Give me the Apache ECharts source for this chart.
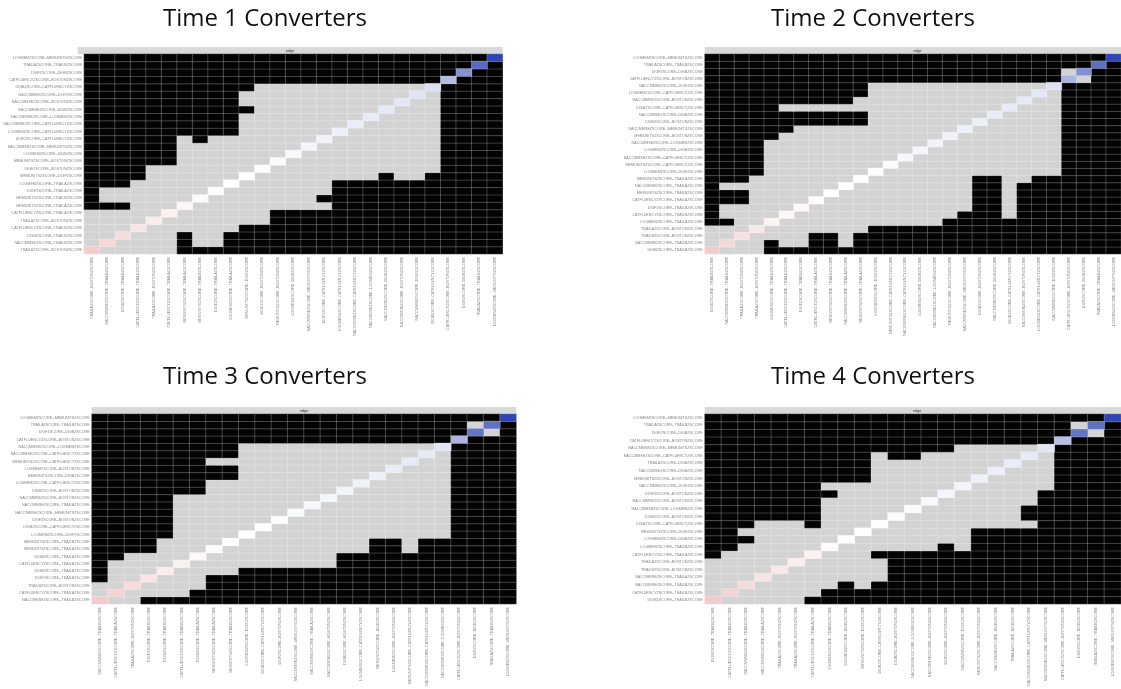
<!DOCTYPE html>
<html>
<head>
<meta charset="utf-8">
<script src="https://cdn.jsdelivr.net/npm/echarts@6.0.0/dist/echarts.min.js"></script>
<style>
  html, body { margin: 0; padding: 0; background: #ffffff; }
  #chart { width: 1121px; height: 689px; }
</style>
</head>
<body>
<div id="chart"></div>
<script>
// Edge-weight difference tests, one matrix per time point.
// Edges are listed from the weakest (bottom row / left column) to the strongest.
// Diagonal cells show the edge weight; off-diagonal cells are grey when two
// edges do not differ significantly and black when they do.

const titles = ['Time 1 Converters', 'Time 2 Converters', 'Time 3 Converters', 'Time 4 Converters'];

// ---- Time 1 ----
const time1Edges = [
  'TRAILBZSCORE--BOSTONZSCORE', 'NACCMMSEZSCORE--TRAILBZSCORE', 'DIGBZSCORE--TRAILBZSCORE',
  'CATFLUENCYZSCORE--TRAILBZSCORE', 'TRAILAZSCORE--BOSTONZSCORE', 'CATFLUENCYZSCORE--TRAILAZSCORE',
  'MEMUNITSZSCORE--TRAILAZSCORE', 'MEMUNITSZSCORE--TRAILBZSCORE', 'DIGFZSCORE--TRAILAZSCORE',
  'LOGMEMZSCORE--TRAILAZSCORE', 'MEMUNITSZSCORE--DIGFZSCORE', 'DIGFZSCORE--BOSTONZSCORE',
  'MEMUNITSZSCORE--BOSTONZSCORE', 'LOGMEMZSCORE--DIGBZSCORE', 'NACCMMSEZSCORE--MEMUNITSZSCORE',
  'DIGFZSCORE--CATFLUENCYZSCORE', 'LOGMEMZSCORE--CATFLUENCYZSCORE', 'NACCMMSEZSCORE--CATFLUENCYZSCORE',
  'NACCMMSEZSCORE--LOGMEMZSCORE', 'NACCMMSEZSCORE--DIGBZSCORE', 'NACCMMSEZSCORE--BOSTONZSCORE',
  'NACCMMSEZSCORE--DIGFZSCORE', 'DIGBZSCORE--CATFLUENCYZSCORE', 'CATFLUENCYZSCORE--BOSTONZSCORE',
  'DIGFZSCORE--DIGBZSCORE', 'TRAILAZSCORE--TRAILBZSCORE', 'LOGMEMZSCORE--MEMUNITSZSCORE'
];
const time1Weights = [
  -0.125, -0.1, -0.085, -0.065, -0.05, -0.035, -0.025, -0.015, -0.008, 0.0,
  0.003, 0.006, 0.01, 0.018, 0.026, 0.034, 0.04, 0.048, 0.055, 0.06,
  0.066, 0.072, 0.085, 0.18, 0.29, 0.4, 0.5
];
// per row: column ranges [from, to] (1-based) that are not significantly different
const time1Same = [
  [[1, 6]], [[1, 6], [8, 9]], [[1, 6], [8, 9]], [[1, 10]], [[1, 12]], [[1, 12]],
  [[4, 16]], [[2, 15]], [[2, 16]], [[4, 16]], [[5, 19], [21, 22]], [[5, 23]],
  [[7, 23]], [[7, 23]], [[7, 23]], [[7, 7], [9, 23]], [[11, 23]], [[11, 23]],
  [[11, 23]], [[12, 23]], [[11, 23]], [[11, 23]], [[12, 23]], [], [], [], []
];

// ---- Time 2 ----
const time2Edges = [
  'DIGBZSCORE--TRAILBZSCORE', 'NACCMMSEZSCORE--TRAILBZSCORE', 'TRAILBZSCORE--BOSTONZSCORE',
  'TRAILAZSCORE--BOSTONZSCORE', 'LOGMEMZSCORE--TRAILBZSCORE', 'CATFLUENCYZSCORE--TRAILBZSCORE',
  'DIGFZSCORE--TRAILBZSCORE', 'CATFLUENCYZSCORE--TRAILAZSCORE', 'MEMUNITSZSCORE--TRAILBZSCORE',
  'NACCMMSEZSCORE--TRAILAZSCORE', 'MEMUNITSZSCORE--TRAILAZSCORE', 'LOGMEMZSCORE--DIGFZSCORE',
  'MEMUNITSZSCORE--CATFLUENCYZSCORE', 'NACCMMSEZSCORE--CATFLUENCYZSCORE', 'LOGMEMZSCORE--DIGBZSCORE',
  'NACCMMSEZSCORE--LOGMEMZSCORE', 'MEMUNITSZSCORE--BOSTONZSCORE', 'NACCMMSEZSCORE--MEMUNITSZSCORE',
  'DIGBZSCORE--BOSTONZSCORE', 'NACCMMSEZSCORE--DIGBZSCORE', 'DIGBZSCORE--CATFLUENCYZSCORE',
  'NACCMMSEZSCORE--BOSTONZSCORE', 'LOGMEMZSCORE--CATFLUENCYZSCORE', 'NACCMMSEZSCORE--DIGFZSCORE',
  'CATFLUENCYZSCORE--BOSTONZSCORE', 'DIGFZSCORE--DIGBZSCORE', 'TRAILAZSCORE--TRAILBZSCORE',
  'LOGMEMZSCORE--MEMUNITSZSCORE'
];
const time2Weights = [
  -0.13, -0.1, -0.08, -0.06, -0.03, -0.02, -0.015, -0.01, 0.0, 0.0,
  0.0, 0.005, 0.01, 0.02, 0.025, 0.03, 0.035, 0.04, 0.045, 0.05,
  0.055, 0.06, 0.065, 0.08, 0.2, 0.3, 0.39, 0.5
];
const time2Same = [
  [[1, 4]], [[1, 4], [6, 7], [10, 10]], [[1, 7], [10, 10]], [[1, 11]], [[3, 16]],
  [[2, 17], [21, 21]], [[2, 18], [21, 21]], [[4, 18], [21, 21]], [[4, 18], [21, 21]],
  [[2, 18], [21, 21]], [[4, 18], [21, 22]], [[5, 24]], [[5, 24]], [[5, 24]], [[5, 24]],
  [[5, 24]], [[6, 24]], [[7, 24]], [[12, 24]], [[12, 24]], [[6, 24]], [[11, 24]],
  [[12, 24]], [[12, 24]], [[25, 26]], [[25, 26]], [], []
];

// ---- Time 3 ----
const time3Edges = [
  'NACCMMSEZSCORE--TRAILBZSCORE', 'CATFLUENCYZSCORE--TRAILAZSCORE', 'TRAILBZSCORE--BOSTONZSCORE',
  'DIGFZSCORE--TRAILBZSCORE', 'DIGBZSCORE--TRAILBZSCORE', 'CATFLUENCYZSCORE--TRAILBZSCORE',
  'DIGBZSCORE--TRAILAZSCORE', 'MEMUNITSZSCORE--TRAILAZSCORE', 'MEMUNITSZSCORE--TRAILBZSCORE',
  'LOGMEMZSCORE--DIGFZSCORE', 'DIGBZSCORE--CATFLUENCYZSCORE', 'DIGFZSCORE--BOSTONZSCORE',
  'NACCMMSEZSCORE--MEMUNITSZSCORE', 'NACCMMSEZSCORE--TRAILAZSCORE', 'NACCMMSEZSCORE--BOSTONZSCORE',
  'DIGBZSCORE--BOSTONZSCORE', 'LOGMEMZSCORE--CATFLUENCYZSCORE', 'MEMUNITSZSCORE--DIGBZSCORE',
  'LOGMEMZSCORE--BOSTONZSCORE', 'MEMUNITSZSCORE--CATFLUENCYZSCORE', 'NACCMMSEZSCORE--CATFLUENCYZSCORE',
  'NACCMMSEZSCORE--LOGMEMZSCORE', 'CATFLUENCYZSCORE--BOSTONZSCORE', 'DIGFZSCORE--DIGBZSCORE',
  'TRAILAZSCORE--TRAILBZSCORE', 'LOGMEMZSCORE--MEMUNITSZSCORE'
];
const time3Weights = [
  -0.13, -0.11, -0.09, -0.07, -0.05, -0.035, -0.02, -0.01, 0.0, 0.0,
  0.003, 0.008, 0.012, 0.018, 0.024, 0.03, 0.036, 0.042, 0.05, 0.055,
  0.06, 0.07, 0.2, 0.37, 0.38, 0.5
];
const time3Same = [
  [[1, 3]], [[1, 6]], [[1, 7]], [[2, 7]], [[2, 9]], [[2, 15]], [[3, 15]],
  [[5, 17], [20, 20]], [[5, 17], [20, 20]], [[6, 22]], [[6, 22]], [[6, 22]], [[6, 22]],
  [[6, 22]], [[6, 22]], [[8, 22]], [[8, 22]], [[10, 22]], [[10, 22]], [[8, 22]],
  [[10, 22]], [[10, 22]], [], [[24, 25]], [[24, 25]], []
];

// ---- Time 4 ----
const time4Edges = [
  'DIGBZSCORE--TRAILBZSCORE', 'CATFLUENCYZSCORE--TRAILBZSCORE', 'NACCMMSEZSCORE--TRAILBZSCORE',
  'NACCMMSEZSCORE--TRAILAZSCORE', 'TRAILBZSCORE--BOSTONZSCORE', 'TRAILAZSCORE--BOSTONZSCORE',
  'CATFLUENCYZSCORE--TRAILAZSCORE', 'LOGMEMZSCORE--TRAILBZSCORE', 'LOGMEMZSCORE--DIGBZSCORE',
  'MEMUNITSZSCORE--DIGFZSCORE', 'DIGBZSCORE--CATFLUENCYZSCORE', 'DIGBZSCORE--BOSTONZSCORE',
  'NACCMMSEZSCORE--LOGMEMZSCORE', 'NACCMMSEZSCORE--BOSTONZSCORE', 'DIGFZSCORE--BOSTONZSCORE',
  'NACCMMSEZSCORE--DIGFZSCORE', 'MEMUNITSZSCORE--BOSTONZSCORE', 'NACCMMSEZSCORE--DIGBZSCORE',
  'TRAILAZSCORE--DIGBZSCORE', 'NACCMMSEZSCORE--CATFLUENCYZSCORE', 'NACCMMSEZSCORE--MEMUNITSZSCORE',
  'CATFLUENCYZSCORE--BOSTONZSCORE', 'DIGFZSCORE--DIGBZSCORE', 'TRAILAZSCORE--TRAILBZSCORE',
  'LOGMEMZSCORE--MEMUNITSZSCORE'
];
const time4Weights = [
  -0.13, -0.11, -0.09, -0.07, -0.06, -0.045, -0.035, -0.01, 0.0, 0.0,
  0.003, 0.008, 0.012, 0.02, 0.025, 0.03, 0.038, 0.045, 0.05, 0.058,
  0.07, 0.17, 0.37, 0.38, 0.5
];
const time4Same = [
  [[1, 6]], [[1, 7]], [[1, 8], [10, 10]], [[1, 11]], [[1, 11]], [[1, 11]], [[2, 10]],
  [[3, 14], [16, 16]], [[4, 16]], [[3, 16]], [[4, 6], [8, 20]], [[8, 19]], [[8, 19]],
  [[8, 20]], [[9, 20]], [[8, 21]], [[11, 21]], [[11, 21]], [[11, 21]], [[11, 11], [14, 21]],
  [[16, 21]], [], [[23, 24]], [[23, 24]], []
];

// ---- panel placement ----
const panelData = [
  { edges: time1Edges, weights: time1Weights, same: time1Same },
  { edges: time2Edges, weights: time2Weights, same: time2Same },
  { edges: time3Edges, weights: time3Weights, same: time3Same },
  { edges: time4Edges, weights: time4Weights, same: time4Same }
];
const layout = [
  { left: 77.7, top: 54, width: 425, height: 200, titleX: 265, titleY: 19 },
  { left: 704.7, top: 54, width: 425.6, height: 200, titleX: 873, titleY: 19 },
  { left: 91.7, top: 414, width: 424.6, height: 193, titleX: 265, titleY: 377 },
  { left: 704.7, top: 414, width: 425, height: 200, titleX: 873, titleY: 377 }
];

const STRIP_H = 7;
const LABEL_FONT = 'Liberation Sans, Arial, sans-serif';
const LABEL_COLOR = '#858585';

function inRanges(ranges, col) {
  return ranges.some(([a, b]) => col >= a && col <= b);
}

const grid = [], xAxis = [], yAxis = [], series = [], graphic = [];
const pairSeries = [], diagSeries = [];

panelData.forEach((p, g) => {
  const L = layout[g];
  grid.push({ left: L.left, top: L.top, width: L.width, height: L.height, containLabel: false });

  const axisBase = {
    type: 'category',
    gridIndex: g,
    data: p.edges,
    axisLine: { show: false },
    axisTick: { show: false },
    splitLine: { show: false }
  };
  xAxis.push(Object.assign({}, axisBase, {
    axisLabel: { interval: 0, rotate: 90, fontSize: 3.7, color: LABEL_COLOR, margin: 3, fontFamily: LABEL_FONT }
  }));
  yAxis.push(Object.assign({}, axisBase, {
    axisLabel: { interval: 0, fontSize: 3.7, color: LABEL_COLOR, margin: 2, fontFamily: LABEL_FONT }
  }));

  // off-diagonal: 1 = no significant difference (grey), 0 = significant (black)
  const pairs = [];
  p.same.forEach((ranges, r) => {
    for (let c = 0; c < p.edges.length; c++) {
      if (c === r) continue;
      pairs.push([c, r, inRanges(ranges, c + 1) ? 1 : 0]);
    }
  });
  pairSeries.push(series.length);
  series.push({
    type: 'heatmap',
    xAxisIndex: g, yAxisIndex: g,
    data: pairs,
    itemStyle: { borderColor: 'rgba(255,255,255,0.28)', borderWidth: 0.8 },
    emphasis: { disabled: true }
  });

  // diagonal: edge weights
  diagSeries.push(series.length);
  series.push({
    type: 'heatmap',
    xAxisIndex: g, yAxisIndex: g,
    data: p.weights.map((w, k) => [k, k, w]),
    itemStyle: { borderColor: 'rgba(255,255,255,0.28)', borderWidth: 0.8 },
    emphasis: { disabled: true }
  });

  // facet strip and panel title
  graphic.push({
    type: 'rect',
    shape: { x: L.left, y: L.top - STRIP_H, width: L.width, height: STRIP_H },
    style: { fill: '#d9d9d9' },
    silent: true
  });
  graphic.push({
    type: 'text',
    x: L.left + L.width / 2,
    y: L.top - STRIP_H / 2,
    style: {
      text: 'edge', fontSize: 3.7, fontFamily: LABEL_FONT, fill: '#333333',
      align: 'center', verticalAlign: 'middle', textAlign: 'center', textVerticalAlign: 'middle'
    },
    silent: true
  });
  graphic.push({
    type: 'text',
    x: L.titleX,
    y: L.titleY,
    style: {
      text: titles[g], fontSize: 24, fontFamily: 'Open Sans, sans-serif', fill: '#111111',
      align: 'center', verticalAlign: 'middle', textAlign: 'center', textVerticalAlign: 'middle'
    },
    silent: true
  });
});

const chart = echarts.init(document.getElementById('chart'), null, { renderer: 'canvas' });
chart.setOption({
  animation: false,
  backgroundColor: '#ffffff',
  grid, xAxis, yAxis, series, graphic,
  visualMap: [
    {
      type: 'piecewise', show: false, seriesIndex: pairSeries, dimension: 2,
      pieces: [
        { min: -0.5, max: 0.5, color: '#030303' },
        { min: 0.5, max: 1.5, color: '#d3d3d3' }
      ]
    },
    {
      type: 'continuous', show: false, seriesIndex: diagSeries, dimension: 2,
      min: -0.5, max: 0.5,
      inRange: { color: ['#c83c3c', '#ffffff', '#2f45b2'] }
    }
  ]
});
</script>
</body>
</html>
